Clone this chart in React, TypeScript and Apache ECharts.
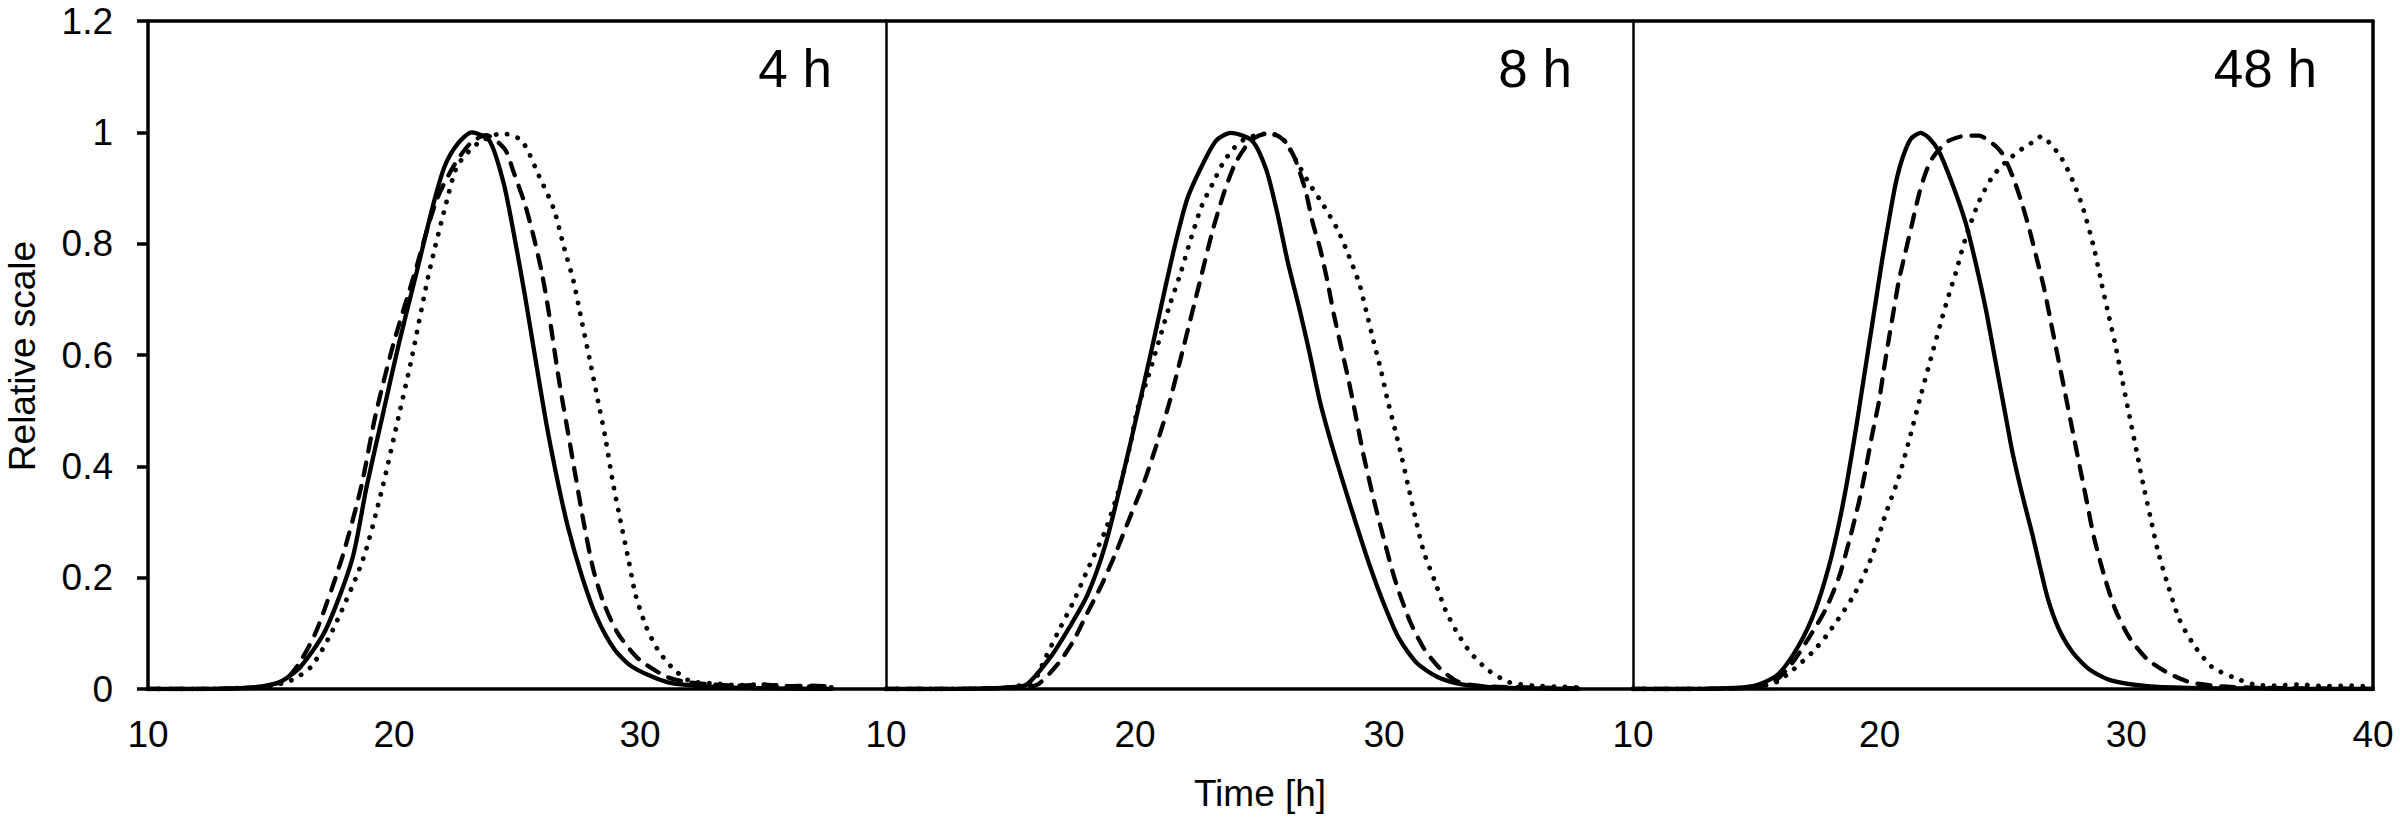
import React, { useEffect, useRef } from "react";
import * as echarts from "echarts";

// ---------- data ----------
const PANEL_LABELS = ["4 h", "8 h", "48 h"];
const X_MIN = 10;
const X_MAX = 40;
const X_STEP = 10;
const Y_MIN = 0;
const Y_MAX = 1.2;
const Y_STEP = 0.2;
const Y_NAME = "Relative scale";
const X_NAME = "Time [h]";

// 4 h
const t4Solid = [10, 12, 14, 14.8, 15.47, 16.2, 17.21, 18.3, 18.88, 19.53, 20.19, 20.91, 21.63, 22.07, 22.6, 23.16, 23.88, 24.46, 24.9, 25.33, 25.76, 26.2, 26.63, 27.07, 27.65, 28.23, 28.95, 29.68, 31.13, 33.0, 35.5, 37.8];
const v4Solid = [0, 0, 0.002, 0.006, 0.015, 0.04, 0.105, 0.233, 0.362, 0.49, 0.619, 0.747, 0.876, 0.94, 0.98, 1.0, 0.985, 0.908, 0.811, 0.705, 0.59, 0.475, 0.378, 0.291, 0.201, 0.13, 0.072, 0.04, 0.012, 0.004, 0.001, 0];
const t4Dash = [10, 12, 14, 14.8, 15.55, 16.2, 16.85, 17.87, 18.66, 19.24, 19.97, 20.84, 21.71, 22.43, 23.1, 23.74, 24.5, 24.89, 25.33, 25.69, 26.0, 26.27, 26.71, 27.21, 27.72, 28.1, 28.52, 29.1, 29.97, 31.13, 32.0, 33.0, 34.0, 35.0, 36.0, 37.0, 37.8];
const v4Dash = [0, 0, 0.002, 0.006, 0.015, 0.05, 0.105, 0.233, 0.362, 0.49, 0.619, 0.747, 0.876, 0.94, 0.98, 0.995, 0.97, 0.925, 0.87, 0.81, 0.75, 0.683, 0.554, 0.426, 0.297, 0.215, 0.155, 0.1, 0.053, 0.021, 0.012, 0.008, 0.006, 0.008, 0.005, 0.006, 0.004];
const t4Dot = [10, 12, 14, 15, 15.8, 16.63, 17.5, 18.74, 19.53, 20.19, 20.7, 21.42, 22.14, 22.58, 23.4, 24.39, 25.19, 25.91, 26.49, 26.92, 27.29, 27.65, 28.01, 28.3, 28.59, 28.88, 29.17, 29.53, 29.82, 30.26, 30.69, 31.27, 32.0, 33.0, 34.0, 35.0, 36.0, 37.0, 37.8];
const v4Dot = [0, 0, 0.002, 0.006, 0.015, 0.04, 0.105, 0.233, 0.362, 0.49, 0.59, 0.747, 0.876, 0.94, 0.98, 0.998, 0.985, 0.92, 0.863, 0.792, 0.734, 0.657, 0.58, 0.516, 0.452, 0.375, 0.31, 0.233, 0.169, 0.111, 0.073, 0.04, 0.015, 0.01, 0.007, 0.008, 0.005, 0.004, 0.003];

// 8 h
const t8Solid = [10, 12, 14, 14.9, 15.65, 16.65, 17.37, 18.09, 18.81, 19.53, 20.1, 20.68, 21.25, 21.68, 22.11, 22.69, 23.26, 23.84, 24.7, 25.27, 25.71, 26.14, 26.57, 27.0, 27.43, 27.86, 28.29, 28.87, 29.44, 30.02, 30.59, 31.31, 32.17, 33.18, 34.5, 36.0, 37.8];
const v8Solid = [0, 0, 0.001, 0.003, 0.008, 0.06, 0.111, 0.169, 0.259, 0.387, 0.497, 0.612, 0.728, 0.811, 0.882, 0.94, 0.985, 0.999, 0.985, 0.933, 0.856, 0.766, 0.689, 0.606, 0.516, 0.445, 0.381, 0.298, 0.22, 0.15, 0.092, 0.047, 0.021, 0.008, 0.003, 0.001, 0];
const t8Dash = [10, 12, 14, 15.2, 16.08, 16.94, 17.52, 18.09, 18.67, 19.24, 19.81, 20.39, 20.96, 21.39, 21.83, 22.26, 22.69, 23.12, 23.55, 23.98, 24.41, 24.84, 25.42, 26.0, 26.42, 26.85, 27.14, 27.43, 27.72, 28.0, 28.29, 28.58, 28.87, 29.15, 29.58, 30.02, 30.45, 31.02, 31.6, 32.31, 33.03, 34.0, 35.5, 37.0, 37.8];
const v8Dash = [0, 0, 0.001, 0.003, 0.008, 0.047, 0.086, 0.137, 0.188, 0.246, 0.31, 0.375, 0.452, 0.516, 0.593, 0.67, 0.747, 0.824, 0.888, 0.94, 0.972, 0.991, 0.999, 0.985, 0.953, 0.895, 0.837, 0.792, 0.734, 0.67, 0.612, 0.554, 0.49, 0.426, 0.342, 0.265, 0.195, 0.124, 0.073, 0.034, 0.012, 0.005, 0.003, 0.002, 0.001];
const t8Dot = [10, 12, 14, 15.1, 15.94, 16.37, 16.94, 17.52, 18.09, 18.81, 19.38, 19.81, 20.1, 20.53, 20.96, 21.39, 21.83, 22.26, 22.69, 23.12, 23.55, 23.98, 24.41, 24.99, 25.42, 26.0, 26.42, 27.0, 27.57, 28.15, 28.58, 29.01, 29.3, 29.58, 29.87, 30.16, 30.45, 30.73, 31.02, 31.31, 31.6, 32.03, 32.46, 32.89, 33.46, 34.18, 35.04, 36.0, 37.0, 37.8];
const v8Dot = [0, 0, 0.001, 0.004, 0.015, 0.053, 0.105, 0.156, 0.214, 0.285, 0.362, 0.439, 0.503, 0.561, 0.625, 0.689, 0.747, 0.811, 0.869, 0.908, 0.946, 0.972, 0.988, 0.996, 0.998, 0.985, 0.953, 0.908, 0.869, 0.824, 0.779, 0.728, 0.676, 0.625, 0.574, 0.516, 0.465, 0.413, 0.355, 0.298, 0.246, 0.195, 0.143, 0.105, 0.066, 0.034, 0.012, 0.006, 0.004, 0.003];

// 48 h
const t48Solid = [10, 12, 13.5, 14.5, 15.1, 15.92, 16.73, 17.4, 17.94, 18.35, 18.69, 19.03, 19.3, 19.57, 19.84, 20.11, 20.38, 20.65, 20.92, 21.26, 21.66, 22.0, 22.4, 22.94, 23.49, 23.89, 24.3, 24.57, 24.84, 25.11, 25.38, 25.78, 26.19, 26.46, 26.8, 27.24, 27.82, 28.54, 29.41, 30.86, 32.5, 35.0, 37.5, 40];
const v48Solid = [0, 0, 0.001, 0.003, 0.008, 0.028, 0.079, 0.143, 0.22, 0.297, 0.375, 0.465, 0.542, 0.619, 0.696, 0.773, 0.843, 0.908, 0.953, 0.988, 0.999, 0.99, 0.966, 0.908, 0.837, 0.766, 0.683, 0.619, 0.554, 0.49, 0.426, 0.349, 0.278, 0.227, 0.165, 0.11, 0.066, 0.034, 0.015, 0.005, 0.002, 0.001, 0, 0];
const t48Dash = [10, 12, 14, 15.0, 15.7, 16.46, 17.13, 17.81, 18.35, 18.76, 19.16, 19.43, 19.7, 19.97, 20.17, 20.38, 20.58, 20.78, 21.05, 21.32, 21.59, 21.86, 22.13, 22.47, 22.81, 23.49, 24.03, 24.43, 24.92, 25.21, 25.5, 25.79, 26.08, 26.37, 26.66, 26.95, 27.24, 27.53, 27.82, 28.11, 28.4, 28.69, 29.12, 29.55, 30.13, 30.86, 31.72, 32.59, 33.75, 35.5, 37.5, 40];
const v48Dash = [0, 0, 0.001, 0.004, 0.012, 0.047, 0.092, 0.143, 0.201, 0.265, 0.336, 0.394, 0.458, 0.516, 0.574, 0.631, 0.683, 0.734, 0.786, 0.837, 0.888, 0.927, 0.953, 0.972, 0.985, 0.994, 0.994, 0.985, 0.965, 0.94, 0.908, 0.869, 0.824, 0.773, 0.721, 0.657, 0.593, 0.529, 0.464, 0.4, 0.336, 0.272, 0.201, 0.143, 0.092, 0.053, 0.028, 0.012, 0.005, 0.002, 0.001, 0];
const t48Dot = [10, 12, 14, 15.0, 15.8, 16.5, 17.27, 17.88, 18.96, 19.7, 20.24, 20.78, 21.26, 21.66, 22.07, 22.47, 22.81, 23.08, 23.49, 24.03, 24.57, 25.17, 25.92, 26.32, 26.55, 26.95, 27.38, 27.82, 28.25, 28.69, 28.97, 29.26, 29.55, 29.84, 30.13, 30.42, 30.71, 31.0, 31.29, 31.72, 32.16, 32.74, 33.46, 34.33, 35.2, 36.0, 37.0, 38.0, 39.0, 40];
const v48Dot = [0, 0, 0.001, 0.004, 0.012, 0.035, 0.066, 0.098, 0.169, 0.24, 0.314, 0.381, 0.458, 0.526, 0.593, 0.657, 0.709, 0.747, 0.811, 0.876, 0.92, 0.949, 0.975, 0.985, 0.993, 0.978, 0.953, 0.914, 0.863, 0.792, 0.734, 0.676, 0.619, 0.554, 0.49, 0.426, 0.362, 0.304, 0.246, 0.182, 0.124, 0.079, 0.04, 0.021, 0.008, 0.006, 0.008, 0.005, 0.006, 0.004];

const PANELS = [
  { solid: [t4Solid, v4Solid], dash: [t4Dash, v4Dash], dot: [t4Dot, v4Dot] },
  { solid: [t8Solid, v8Solid], dash: [t8Dash, v8Dash], dot: [t8Dot, v8Dot] },
  { solid: [t48Solid, v48Solid], dash: [t48Dash, v48Dash], dot: [t48Dot, v48Dot] },
];

// ---------- layout / style ----------
const FONT = '"Liberation Sans", Arial, Helvetica, sans-serif';
const GRID_TOP = 21;
const GRID_H = 668;
const GRID_BOXES = [
  { left: 148, width: 738 },
  { left: 886, width: 747 },
  { left: 1633, width: 740 },
];
const LABEL_POS = [
  { x: 832, y: 68 },
  { x: 1572, y: 68 },
  { x: 2317, y: 68 },
];

const zip = (t: number[], v: number[]) => t.map((x, i) => [x, v[i]]);

function buildOption() {
  const grid = GRID_BOXES.map((g) => ({ left: g.left, top: GRID_TOP, width: g.width, height: GRID_H, containLabel: false }));

  const xAxis: any[] = [];
  GRID_BOXES.forEach((_, i) => {
    xAxis.push({
      type: "value",
      gridIndex: i,
      position: "bottom",
      min: X_MIN,
      max: X_MAX,
      interval: X_STEP,
      axisLine: { show: true, onZero: false, lineStyle: { color: "#000", width: 3.5 } },
      axisTick: { show: false },
      splitLine: { show: false },
      axisLabel: {
        show: true,
        color: "#000",
        fontSize: 37,
        fontFamily: FONT,
        margin: 27,
        formatter: (v: number) => (i < 2 && v === X_MAX ? "" : String(v)),
      },
    });
  });
  GRID_BOXES.forEach((_, i) => {
    xAxis.push({
      type: "value",
      gridIndex: i,
      position: "top",
      min: X_MIN,
      max: X_MAX,
      interval: X_STEP,
      axisLine: { show: true, onZero: false, lineStyle: { color: "#000", width: 3.5 } },
      axisTick: { show: false },
      splitLine: { show: false },
      axisLabel: { show: false },
    });
  });

  const yAxis: any[] = [];
  GRID_BOXES.forEach((_, i) => {
    yAxis.push({
      type: "value",
      gridIndex: i,
      position: "left",
      min: Y_MIN,
      max: Y_MAX,
      interval: Y_STEP,
      axisLine: { show: true, onZero: false, lineStyle: { color: "#000", width: i === 0 ? 3.5 : 2.5 } },
      axisTick: { show: i === 0, inside: false, length: 11, lineStyle: { color: "#000", width: 3.5 } },
      splitLine: { show: false },
      axisLabel: {
        show: i === 0,
        color: "#000",
        fontSize: 37,
        fontFamily: FONT,
        margin: 35,
      },
    });
  });
  yAxis.push({
    type: "value",
    gridIndex: 2,
    position: "right",
    min: Y_MIN,
    max: Y_MAX,
    interval: Y_STEP,
    axisLine: { show: true, onZero: false, lineStyle: { color: "#000", width: 3.5 } },
    axisTick: { show: false },
    splitLine: { show: false },
    axisLabel: { show: false },
  });

  const series: any[] = [];
  PANELS.forEach((p, i) => {
    series.push({
      type: "line",
      name: PANEL_LABELS[i] + " solid",
      xAxisIndex: i,
      yAxisIndex: i,
      data: zip(p.solid[0], p.solid[1]),
      showSymbol: false,
      smooth: 0.25,
      lineStyle: { color: "#000", width: 4.3, type: "solid", cap: "round", join: "round" },
    });
    series.push({
      type: "line",
      name: PANEL_LABELS[i] + " dashed",
      xAxisIndex: i,
      yAxisIndex: i,
      data: zip(p.dash[0], p.dash[1]),
      showSymbol: false,
      smooth: 0.25,
      lineStyle: { color: "#000", width: 4.3, type: [13, 11], cap: "round", join: "round" },
    });
    series.push({
      type: "line",
      name: PANEL_LABELS[i] + " dotted",
      xAxisIndex: i,
      yAxisIndex: i,
      data: zip(p.dot[0], p.dot[1]),
      showSymbol: false,
      smooth: 0.25,
      lineStyle: { color: "#000", width: 4.8, type: [0.1, 11], cap: "round", join: "round" },
    });
  });

  const textStyle = (text: string, size: number, align: string) => ({
    text,
    fill: "#000",
    fontSize: size,
    fontFamily: FONT,
    font: `${size}px ${FONT}`,
    align,
    verticalAlign: "middle",
    textAlign: align,
    textVerticalAlign: "middle",
  });

  const graphic: any[] = [
    { type: "text", x: 22, y: 356, rotation: Math.PI / 2, style: textStyle(Y_NAME, 37, "center") },
    { type: "text", x: 1260, y: 793, style: textStyle(X_NAME, 37, "center") },
    ...PANEL_LABELS.map((lab, i) => ({
      type: "text",
      x: LABEL_POS[i].x,
      y: LABEL_POS[i].y,
      style: textStyle(lab, 53, "right"),
    })),
  ];

  return {
    animation: false,
    backgroundColor: "#fff",
    grid,
    xAxis,
    yAxis,
    series,
    graphic,
  };
}

export default function App() {
  const ref = useRef<HTMLDivElement>(null);
  useEffect(() => {
    document.body.style.margin = "0";
    if (!ref.current) return;
    const chart = echarts.init(ref.current, null, { renderer: "svg" });
    chart.setOption(buildOption() as any);
    return () => chart.dispose();
  }, []);
  return (
    <div
      ref={ref}
      style={{ position: "absolute", left: 0, top: 0, width: 2400, height: 821, background: "#fff" }}
    />
  );
}
